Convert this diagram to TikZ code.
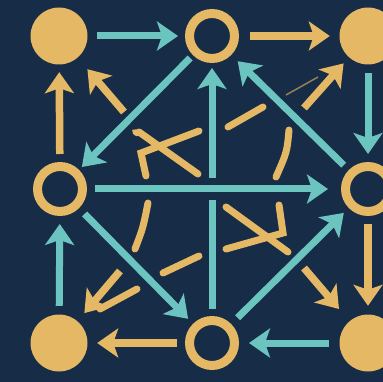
\documentclass[tikz,border=0pt]{standalone}
\usetikzlibrary{arrows.meta}
\definecolor{bg}{RGB}{23,44,70}
\definecolor{gold}{RGB}{228,184,100}
\definecolor{myteal}{RGB}{108,196,192}
\begin{document}
\begin{tikzpicture}[x=1pt,y=-1pt,
  dot/.style={circle,fill=gold,minimum size=57pt,inner sep=0pt},
  ring/.style={circle,draw=gold,line width=9pt,minimum size=45pt,inner sep=0pt},
  head/.style={-{Stealth[length=21pt,width=29pt,inset=5pt]}},
  tarr/.style={draw=myteal,line width=7pt,head},
  garr/.style={draw=gold,line width=7.5pt,head},
  gstroke/.style={draw=gold,line width=7pt,line cap=round},
]
\useasboundingbox (0,0) rectangle (383,382);
\clip (0,0) rectangle (383,382);
\fill[bg] (0,0) rectangle (383,382);

% nodes
\node[dot]  (tl) at (59,36)  {};
\node[ring] (tm) at (212,36) {};
\node[dot]  (tr) at (368,36) {};
\node[ring] (ml) at (60,189) {};
\node[ring] (mr) at (368,189) {};
\node[dot]  (bl) at (59,343) {};
\node[ring] (bm) at (212,343) {};
\node[dot]  (br) at (368,343) {};

% free ends
\coordinate (g4)  at (124,112);
\coordinate (g8)  at (304,108);
\coordinate (g12) at (304,268);
\coordinate (g18) at (120,271);

% central vertical (broken by horizontal)
\draw[tarr,shorten <=7pt,shorten >=5pt] (bm) -- (tm);
\draw[draw=bg,line width=22pt,shorten <=10pt,shorten >=40pt] (ml) -- (mr);
\draw[tarr,shorten <=8pt,shorten >=13pt] (ml) -- (mr);

% teal arrows
\draw[tarr,shorten <=9.5pt,shorten >=7pt] (tl) -- (tm);
\draw[tarr,shorten <=4pt,shorten >=4pt] (tm) -- (ml);
\draw[tarr,shorten <=7pt,shorten >=9pt] (mr) -- (tm);
\draw[tarr,shorten <=8.5pt,shorten >=8pt] (tr) -- (mr);
\draw[tarr,shorten <=8.5pt,shorten >=8pt] (bl) -- (ml);
\draw[tarr,shorten <=8pt,shorten >=7pt] (ml) -- (bm);
\draw[tarr,shorten <=9pt,shorten >=7pt] (bm) -- (mr);
\draw[tarr,shorten <=10.5pt,shorten >=10pt] (br) -- (bm);

% gold arrows
\draw[garr,shorten <=11pt,shorten >=9.5pt] (tm) -- (tr);
\draw[garr,shorten <=8pt,shorten >=7.5pt] (ml) -- (tl);
\draw[garr,shorten >=15pt] (g4) -- (tl);
\draw[garr,shorten >=8pt] (g8) -- (tr);
\draw[garr,shorten <=8pt,shorten >=8.5pt] (mr) -- (br);
\draw[garr,shorten >=16pt] (g12) -- (br);
\draw[garr,shorten <=8pt,shorten >=9.5pt] (bm) -- (bl);
\draw[garr,shorten >=10.5pt] (g18) -- (bl);
\draw[gstroke] (137,289) -- (100,309);

% gold decorative strokes
\draw[draw=gold,line width=1.5pt,opacity=0.6] (286,95) -- (318,77);
\draw[gstroke] (228,127) -- (263,107);
\draw[gstroke] (289,130) .. controls (287,152) .. (276,177);
\draw[gstroke] (148,203) .. controls (143,228) .. (135,249);
\draw[gstroke] (163,273) -- (199,256);
% upper-left cross
\draw[gstroke] (139,132) -- (198,174);
\draw[gstroke] (199,131) -- (141,153) -- (146,176);
\draw[draw=gold,line width=3pt,line cap=round] (140,134) .. controls (133,127) and (132,133) .. (137,135);
% lower-right cross
\draw[gstroke] (226,207) -- (288,252);
\draw[gstroke] (226,249) -- (283,233) -- (279,205);
\end{tikzpicture}
\end{document}
